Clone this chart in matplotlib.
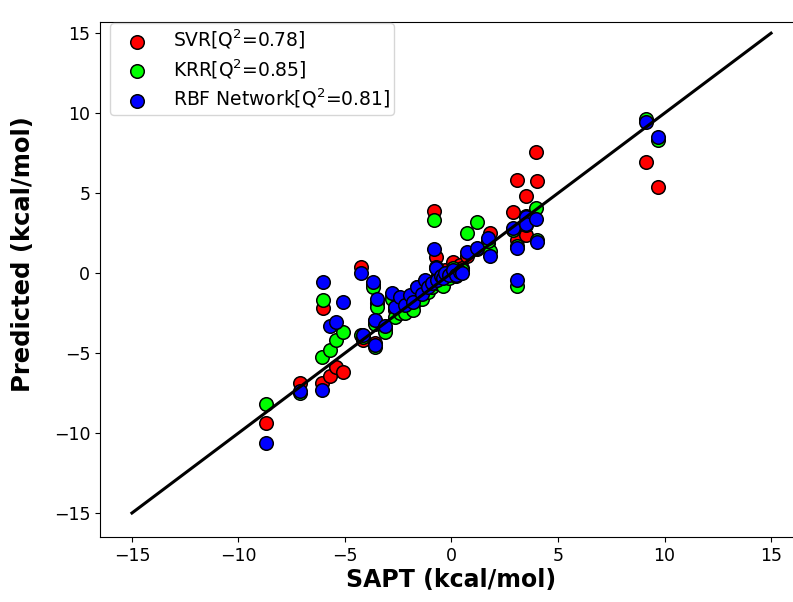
# Importamos las librerías necesarias
import matplotlib
matplotlib.use('Agg')
import matplotlib.pyplot as plt

# Valores SAPT (kcal/mol), comunes a los tres modelos
sapt = [-8.7, -7.1, -6.05, -6.1, -5.7, -5.4, -5.1, -4.25, -4.15, -3.7,
        -3.6, -3.5, -3.6, -3.1, -2.8, -2.65, -2.4, -2.2, -1.95, -1.8,
        -1.6, -1.4, -1.25, -1.1, -0.9, -0.8, -0.75, -0.7, -0.5, -0.4,
        -0.3, -0.1, 0.07, 0.2, 0.4, 0.5, 0.73, 1.2, 1.8, 1.7,
        2.9, 3.07, 3.07, 3.5, 3.5, 3.97, 4.0, 9.15, 9.7]

# Predicciones de cada modelo
pred_svr = [-9.4, -6.9, -2.2, -6.85, -6.45, -5.9, -6.2, 0.4, -4.2, -0.7,
            -4.4, -1.9, -3.0, -3.5, -1.4, -2.3, -1.7, -2.2, -1.5, -2.0,
            -0.9, -1.3, -0.5, -1.0, -0.6, 3.9, 1.0, -0.3, -0.1, -0.5,
            0.2, 0.0, 0.7, 0.1, 0.5, 0.3, 1.1, 1.5, 2.5, 1.9,
            3.8, 5.8, 2.1, 4.8, 2.4, 7.6, 5.75, 6.95, 5.4]

pred_krr = [-8.2, -7.5, -1.7, -5.25, -4.8, -4.2, -3.7, -3.9, -4.0, -0.9,
            -4.6, -2.1, -3.2, -3.7, -1.6, -2.75, -2.5, -2.5, -1.7, -2.3,
            -1.1, -1.6, -0.7, -1.2, -0.9, 3.3, 0.4, -0.6, -0.5, -0.8,
            -0.2, -0.3, 0.3, -0.2, 0.0, 0.2, 2.5, 3.2, 1.4, 2.0,
            2.7, 1.7, -0.8, 3.6, 3.0, 4.06, 2.1, 9.65, 8.3]

pred_rbf = [-10.6, -7.4, -0.55, -7.3, -3.3, -3.05, -1.8, 0.0, -3.9, -0.55,
            -4.5, -1.6, -2.95, -3.3, -1.25, -2.1, -1.5, -2.0, -1.4, -1.8,
            -0.85, -1.3, -0.45, -0.9, -0.6, 1.5, 0.3, -0.4, -0.2, -0.3,
            0.0, -0.1, 0.2, -0.1, 0.1, 0.0, 1.3, 1.57, 1.1, 2.2,
            2.8, 1.55, -0.45, 3.5, 3.1, 3.4, 1.95, 9.45, 8.5]

etiquetas = [r'SVR[Q$^2$=0.78]', r'KRR[Q$^2$=0.85]', r'RBF Network[Q$^2$=0.81]']
colores = ['red', 'lime', 'blue']

# Extremos de la recta ideal
linea = [-15, 15]
ticks = [-15, -10, -5, 0, 5, 10, 15]


# Función para graficar predicciones vs SAPT
def graficar():
    fig = plt.figure(figsize=(7.93, 6.02), dpi=100)
    ax = fig.add_axes([100 / 793, 65 / 602, 703 / 793, 515 / 602])

    for pred, color, etiqueta in zip([pred_svr, pred_krr, pred_rbf], colores, etiquetas):
        ax.scatter(sapt, pred, s=95, c=color, edgecolors='black',
                   linewidths=1.1, label=etiqueta, zorder=2)

    ax.plot(linea, linea, color='black', linewidth=2.2, zorder=3)

    ax.set_xlim(-16.5, 16.5)
    ax.set_ylim(-16.5, 15.7)
    ax.set_xticks(ticks)
    ax.set_yticks(ticks)
    ax.spines['right'].set_visible(False)
    ax.tick_params(labelsize=12.5)
    ax.set_xlabel('SAPT (kcal/mol)', fontsize=17, fontweight='bold', labelpad=2)
    ax.set_ylabel('Predicted (kcal/mol)', fontsize=17.5, fontweight='bold')
    ax.yaxis.set_label_coords(-0.092, 0.55)
    ax.legend(loc='upper left', bbox_to_anchor=(0.014, 0.998), borderaxespad=0,
              fontsize=13.5, labelspacing=0.32, borderpad=0.25, handlelength=2.4,
              handletextpad=0.7, edgecolor='#cccccc')

    fig.savefig('out.png', dpi=100)


if __name__ == "__main__":
    graficar()
